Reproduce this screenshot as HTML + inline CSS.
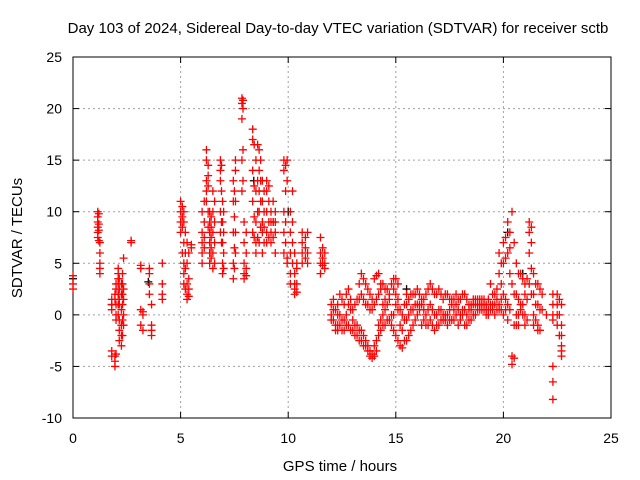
<!DOCTYPE html>
<html><head><meta charset="utf-8"><style>
body{margin:0;background:#fff}
svg{display:block;font-family:"Liberation Sans",sans-serif}
</style></head><body>
<svg id="chart" width="640" height="480">
<rect width="640" height="480" fill="#fff"/>
<text x="338" y="33" text-anchor="middle" font-size="15">Day 103 of 2024, Sidereal Day-to-day VTEC variation (SDTVAR) for receiver sctb</text>
<g id="grid"></g>
<g id="axes"></g>
<g id="marks"></g>
<text x="340" y="471" text-anchor="middle" font-size="15">GPS time / hours</text>
<text transform="translate(22,238) rotate(-90)" text-anchor="middle" font-size="15">SDTVAR / TECUs</text>
</svg>
<script>
const xTicks = [0,5,10,15,20,25];
const yTicks = [-10,-5,0,5,10,15,20,25];
const groupTimes = [0.0,1.15,1.25,1.8,1.95,2.1,2.25,2.35,2.7,3.15,3.25,3.55,3.65,4.15,5.0,5.15,5.3,5.5,6.0,6.2,6.35,6.5,6.85,6.95,7.45,7.55,7.85,7.95,8.35,8.5,8.65,8.8,9.0,9.2,9.4,9.8,9.95,10.1,10.3,10.65,10.9,11.5,11.7,
12.0,12.2,12.4,12.6,12.8,13.0,13.2,13.4,13.6,13.8,14.0,14.2,14.4,14.6,14.8,15.0,15.2,15.4,15.6,15.8,16.0,16.2,16.4,16.6,16.8,17.0,17.2,17.4,17.6,17.8,18.0,18.2,18.4,18.6,18.8,19.0,19.2,19.4,19.6,19.8,20.0,20.2,20.4,20.6,20.8,21.0,21.2,21.4,21.6,21.8,22.0,22.3,22.5,22.7];
const groupValues = [
[2.5,3,3.8],[10,9.5,9,8.5,8,7.5],[7,6,5,4.5,4],[1,1.5,1,0.5,-3.5,-4],[-4.5,-5,-4,1.5,2],[2,3,4,4.5,3.5,2,1,0],[-1,-2,-3,-1,0.5,2,3],[2.5,1.5,0,-1,5.5],[7,7.2],
[4.8,4.5,0.5,-1],[-1.5,0,0.3],[4.5,4,3,2],[1,-1,-2,-1.5],[5,3,2,1.5],
[8,9,10,11],[10,9,7,5,4,3],[2,1.5,3,5,7],[6.5,6.8],[5,6,7,8,10],[12,13,16,15,11],[9,8,7,6,5,10],[12,10,8,6,4.5],[14,15,13,10,8],[7,5,4,9,11],
[3.5,5,8,11,13],[15,14,11,8,6],[21,20.5,19,15,12],[9,7,5,4,3.5],[18,17,14,11,8],[6,7,9,12,15],[16,14,12,10,7],[13,11,9,8,6],[13,12,10,8,7],[8,10,9,7],[10,9,8,6],
[15,14,10,8,6],[5,5.5,15,13],[10,8,6,4,3],[2.5,2,3,6,4],[8,7,6,5],[8,6,5],[7.5,6,5,4],[5,4.5,6],
[1,0,-0.5],[0.5,-1,-1.5],[0,-1,2],[-0.5,-1.5,1],[1,-1,2.5],[0.5,-0.5,-1.5],[1.5,-1,-2],[2,-1.5,-2.5,4],[1,-2.5,-3,3],[0.5,-3.5,-4,2],[1,-3,-4,3.5],[2,-2,-1,4],[1,-1,0,3],[2.5,-0.5,1],[3,0,-1],[2,1,-2,3.5],[0.5,-1,-3],[1,-0.5,-2.5],[1.5,0,-2],[2,0.5,-1],[2.5,0,1],[1,-1,1.5],[2,0,-1],[3,1,-0.5],[2,0,-1.5],[2.5,0.5,-1],[1.5,-0.5,0],[2,0,-1],[1,-0.5,1.5],[2,1,0],[1.5,0,-0.5],[2,0.5,-1],[1,-0.5,0.5],[1.5,0,1],[1,0.5,1.5],[1,0.5,1.5],[1,0,0.5],[3,1,0.5],[2,0,1],[4,1,0.5,6],[5,2,0,7],[9,6,1,-0.5],[10,3,-4,-4.8],[5,2,0,-1],[4,1,0.5],[3,2,0,-1],[9,8,6,3],[4,2,0,-1],[3,1,-1,-1.5],[2,0.5],[0],[2,1,0,-0.5,-5,-6.5,-8.2],[2,1,0,-1],[1,-1,-2,-3,-4,-3.5]
];
const extraTimes = [1.2,2.0,2.15,2.3,5.08,5.22,5.38,6.1,6.28,6.42,6.58,6.9,7.0,7.5,7.9,8.05,8.42,8.58,8.72,8.88,9.1,9.3,9.88,10.2,10.4,10.8,11.6,
12.1,12.3,12.5,12.7,12.9,13.1,13.3,13.5,13.7,13.9,14.1,14.3,14.5,14.7,14.9,15.1,15.3,15.5,15.7,15.9,16.1,16.3,16.5,16.7,16.9,17.1,17.3,17.5,17.7,17.9,18.1,18.3,18.5,18.7,18.9,19.1,19.3,19.5,19.7,19.9,20.1,20.3,20.5,20.7,20.9,21.1,21.3,21.5,21.7,22.6];
const extraValues = [
[9.8,8.8,8.2,7.2],[1,0,-0.5,-3.8,3,2.5],[3.5,2.5,1.5,-0.5,-1.5,-2.5,1],[4,3,1,-0.5,-2,2],[9.5,10.5,8.5,6],[8,6,4.5,2.5],[3.5,2.5,1.8,6],[6.5,7.5,9,11],[13.5,14.5,12.5,10,8.5],[8.5,7.5,6.5,5.5,9.5],[11,9,7,5],[14.5,12,9,7],[6,4.5,8,10],[4.5,6.5,9.5,12],[20.8,20,16,13],[8,6,4.5,3.8],[16.5,12.5,9.5,7.5],[7.5,10,13,16.5],[15,13,11,8.5],[12,10,8.5,7],[12.5,11,9,7.5],[9,7.5,9,11],
[14.5,12,9,7],[12,9,7,5],[3,2.2,5,4.5],[7.5,6.5,5.5],[6.5,5.5,4.8],
[0.5,-0.5,1.5],[0,-1,1,-1.5],[-0.5,-1.5,1.5],[0,-1,2],[0.5,-1.5,1.5],[1,-1,-2],[1.5,-1.5,-2.5,3],[1.5,-2,-3,3.5],[1,-3,-3.5,2.5],[0.5,-3.8,-4.2,1.5],[1.5,-2.5,-3.5,3.8],[2.5,-1.5,-0.5,3],[1.5,-1,0.5,2.5],[2,-0.5,1.5],[2.5,0,-1.5,3.5],[1.5,0.5,-2.5,3],[0,-1.5,-3.2],[1,-0.5,-2.5,2],[2,0.5,-1.5],[2,1,-0.5],[2,0.5,1],[1.5,-0.5,0.5],[2.5,0.5,-1],[2.5,0.5,-1],[2,0,-1],[2,0.5,-0.5],[2,0,-0.5],[1.5,-0.5,0.5],[1.5,0.5,-0.5],[1.5,0.5,-1],[2,0.5,0],[1.5,0,-1],[1,-0.5,0.5],[1.5,0,1],[1.5,0.5,1],[1,0.5,1.5],[1.5,0.5,0],[2,0.5,1],[2.5,0.5,1.5],[3,0.5,1.5,5],[5.5,1.5,0.5,7.5],[8,4,0.5,6.5],[7,2,-1,-4.2],[4,1.5,0,-1],[3.5,1,0],[3.5,1.5,-0.5],[8.5,7,4.5,2],[3,1,-0.5],[2.5,0.5,-1.5],[1.5,0,-2],[1.5,0.5,-0.5,-2.5]
];
const blackTimes = [0.0,3.5,8.4,10.0,15.5,20.2,20.9];
const blackValues = [3.5,3.2,13,10,2.5,8,4];

const NS='http://www.w3.org/2000/svg';
const X0=73,X1=611,Y0=418,Y1=57;
const sx=t=>X0+(t-0)/(25-0)*(X1-X0);
const sy=v=>Y0-(v+10)/(35)*(Y0-Y1);
function mk(tag,attrs,parent){const e=document.createElementNS(NS,tag);for(const k in attrs)e.setAttribute(k,attrs[k]);parent.appendChild(e);return e;}
const grid=document.getElementById('grid'),axes=document.getElementById('axes'),marks=document.getElementById('marks');
xTicks.forEach(t=>{
  if(t>0&&t<25){const l=mk('line',{x1:sx(t),x2:sx(t),y1:Y0,y2:Y1,stroke:'#a0a0a0','stroke-dasharray':'2,3'},grid);
  
  }
  const tx=mk('text',{x:sx(t),y:443,'text-anchor':'middle','font-size':'14'},axes);tx.textContent=t;
  
  
  mk('line',{x1:sx(t),x2:sx(t),y1:Y0,y2:Y0-6,stroke:'#000'},axes);
  mk('line',{x1:sx(t),x2:sx(t),y1:Y1,y2:Y1+6,stroke:'#000'},axes);
});
yTicks.forEach(v=>{
  if(v>-10&&v<25){const l=mk('line',{x1:X0,x2:X1,y1:sy(v),y2:sy(v),stroke:'#a0a0a0','stroke-dasharray':'2,3'},grid);
  
  }
  const tx=mk('text',{x:62,y:sy(v)+5,'text-anchor':'end','font-size':'14'},axes);tx.textContent=v;
  
  
  mk('line',{x1:X0,x2:X0+6,y1:sy(v),y2:sy(v),stroke:'#000'},axes);
  mk('line',{x1:X1,x2:X1-6,y1:sy(v),y2:sy(v),stroke:'#000'},axes);
});
const box=mk('rect',{x:X0,y:Y1,width:X1-X0,height:Y0-Y1,fill:'none',stroke:'#000'},axes);


function plus(t,v,c){
  const x=sx(t),y=sy(v);
  const p=mk('path',{d:`M${x-4},${y}H${x+4}M${x},${y-4}V${y+4}`,stroke:c,'stroke-width':1.3,fill:'none'},marks);
  
  
}
blackTimes.forEach((t,i)=>plus(t,blackValues[i],'#000'));
groupTimes.forEach((t,i)=>groupValues[i].forEach(v=>plus(t,v,'#ff0000')));
extraTimes.forEach((t,i)=>extraValues[i].forEach(v=>plus(t,v,'#ff0000')));
</script>
</body></html>
